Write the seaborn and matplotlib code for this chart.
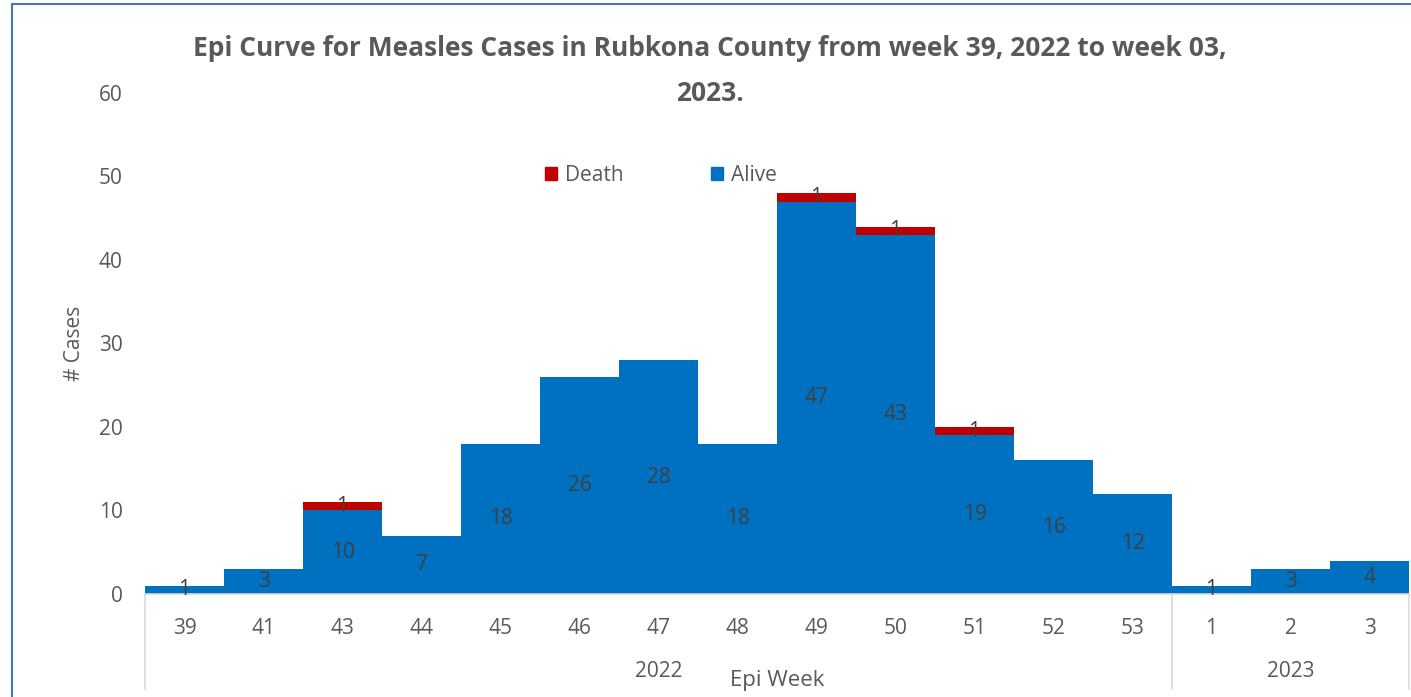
import numpy as np
import pandas as pd
import seaborn as sns
import matplotlib.pyplot as plt
from matplotlib.lines import Line2D
from matplotlib.patches import Patch

weeks = ['39', '41', '43', '44', '45', '46', '47', '48', '49', '50', '51', '52', '53', '1', '2', '3']
years = ['2022'] * 13 + ['2023'] * 3
alive = [1, 3, 10, 7, 18, 26, 28, 18, 47, 43, 19, 16, 12, 1, 3, 4]
death = [0, 0, 1, 0, 0, 0, 0, 0, 1, 1, 1, 0, 0, 0, 0, 0]

df = pd.DataFrame({'week': weeks, 'year': years, 'Alive': alive, 'Death': death})
df['total'] = df['Alive'] + df['Death']

blue = '#0070C0'
red = '#C00000'
grey = '#595959'

sns.set_style('white')
plt.rcParams['font.family'] = ['Open Sans', 'DejaVu Sans']

fig = plt.figure(figsize=(14.11, 6.97), dpi=100)
ax = fig.add_axes([0.1028, 0.1478, 0.8958, 0.7188])

# stacked: total in red, alive drawn over it
sns.barplot(data=df, x='week', y='total', order=weeks, color=red, width=1.0,
            saturation=1, ax=ax, linewidth=0)
sns.barplot(data=df, x='week', y='Alive', order=weeks, color=blue, width=1.0,
            saturation=1, ax=ax, linewidth=0)

# data labels at segment centres
for i, row in df.iterrows():
    ax.text(i, row['Alive'] / 2, str(row['Alive']), ha='center', va='center',
            fontsize=15, color='#404040')
    if row['Death'] > 0:
        ax.text(i, row['Alive'] + row['Death'] / 2, str(row['Death']), ha='center',
                va='center', fontsize=15, color='#404040')

ax.set_xlim(-0.5, len(weeks) - 0.5)
ax.set_ylim(0, 60)
ax.set_yticks(range(0, 61, 10))
ax.tick_params(axis='y', labelsize=15, labelcolor=grey, length=0, pad=16)
ax.tick_params(axis='x', labelsize=15, labelcolor=grey, length=0, pad=17)
ax.set_xlabel('')
ax.set_ylabel('# Cases', fontsize=15, color=grey, labelpad=10)

for s in ['top', 'right', 'left']:
    ax.spines[s].set_visible(False)
ax.spines['bottom'].set_color('#D9D9D9')
ax.spines['bottom'].set_linewidth(1.2)

# year groups under the week labels
tr = ax.get_xaxis_transform()
for x0 in [-0.5, 12.5, 15.5]:
    ax.add_line(Line2D([x0, x0], [0, -0.19], transform=tr, color='#D9D9D9',
                       lw=1.2, clip_on=False))
ax.text(6, -0.155, '2022', transform=tr, ha='center', va='center', fontsize=15, color=grey)
ax.text(14, -0.155, '2023', transform=tr, ha='center', va='center', fontsize=15, color=grey)
fig.text(0.551, 0.024, 'Epi Week', ha='center', va='center', fontsize=16, color=grey)

fig.text(0.503, 0.931, 'Epi Curve for Measles Cases in Rubkona County from week 39, 2022 to week 03,',
         ha='center', va='center', fontsize=19, fontweight='bold', color=grey)
fig.text(0.503, 0.866, '2023.', ha='center', va='center', fontsize=19,
         fontweight='bold', color=grey)

handles = [Patch(color=red, label='Death'), Patch(color=blue, label='Alive')]
ax.legend(handles=handles, loc='center', bbox_to_anchor=(0.408, 0.835), ncol=2,
          frameon=False, fontsize=15, handlelength=0.6, handleheight=0.6,
          columnspacing=4.2, handletextpad=0.35, labelcolor=grey)

# chart border (left and top visible)
fig.add_artist(Line2D([12 / 1411, 12 / 1411], [0, 1 - 4 / 697], transform=fig.transFigure,
                      color='#4472C4', lw=1.5))
fig.add_artist(Line2D([12 / 1411, 1], [1 - 4 / 697, 1 - 4 / 697], transform=fig.transFigure,
                      color='#4472C4', lw=1.5))

fig.savefig('out.png', dpi=100)
